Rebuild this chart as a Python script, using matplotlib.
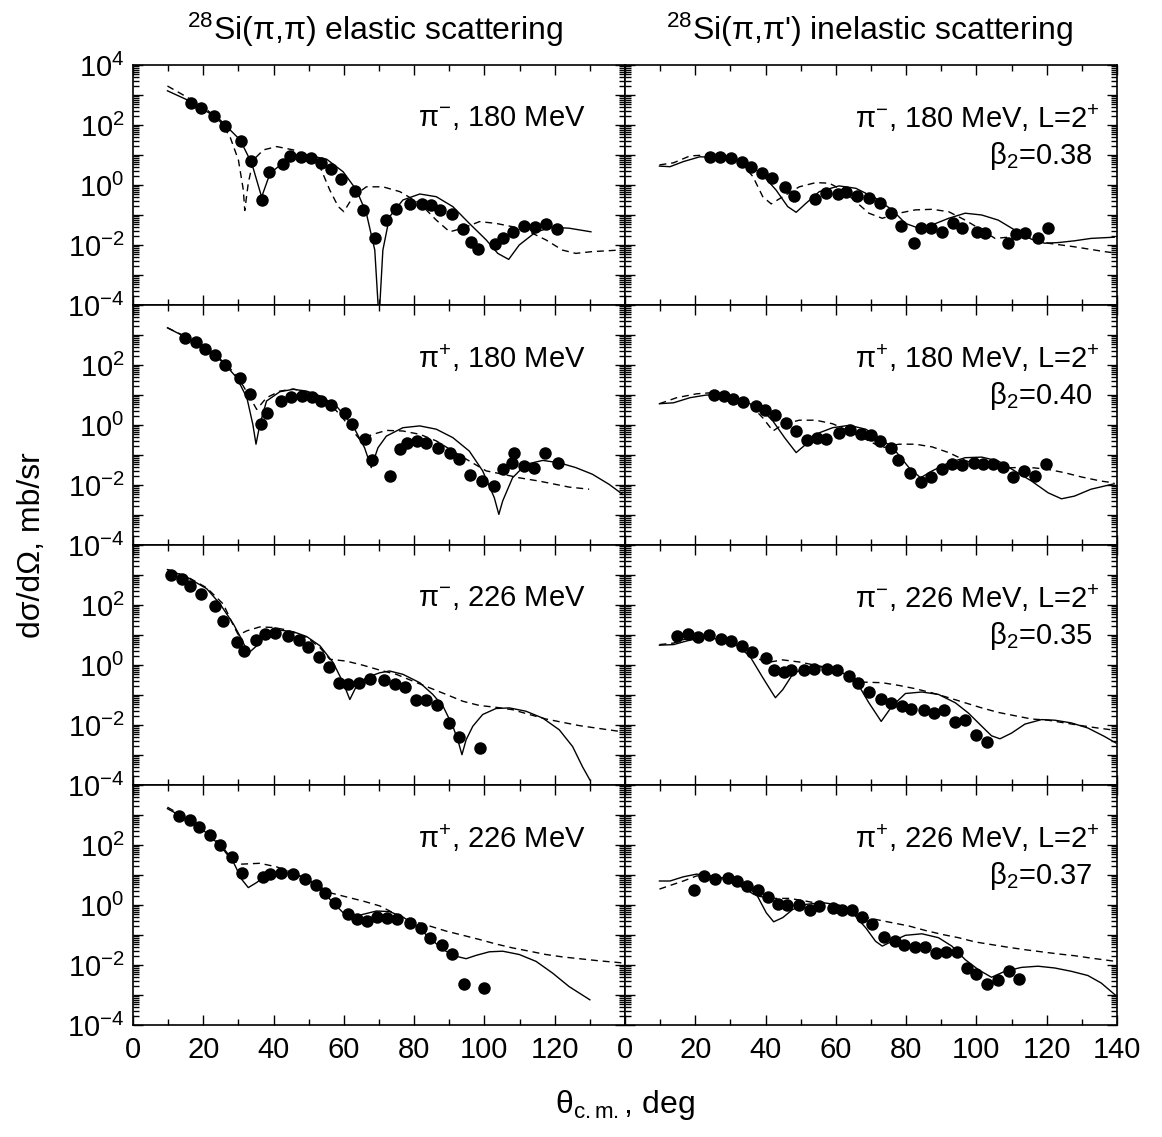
import numpy as np
import matplotlib
matplotlib.use("Agg")
import matplotlib.pyplot as plt
from matplotlib.ticker import LogLocator, FixedLocator, MultipleLocator, NullFormatter

plt.rcParams["font.family"] = ["Liberation Sans", "DejaVu Sans"]
plt.rcParams["mathtext.fontset"] = "custom"
plt.rcParams["mathtext.rm"] = "Liberation Sans"
plt.rcParams["mathtext.it"] = "Liberation Sans:italic"
plt.rcParams["mathtext.bf"] = "Liberation Sans:bold"

# all y values are log10(dsigma/dOmega [mb/sr])

# --- elastic, pi-, 180 MeV
el_m180_x = [16.5, 19.4, 23.1, 26.1, 30.7, 33.5, 36.6, 38.8, 42.6, 44.8, 47.8, 50.6, 53.4, 56.2, 59.1, 63.2, 65.5,
             68.9, 71.9, 74.7, 78.7, 82.1, 84.8, 87.4, 90.7, 93.8, 96.2, 98.1, 102.9, 105.2, 108.2, 111.4, 114.3,
             117.4, 120.7]
el_m180_y = [2.74, 2.56, 2.30, 1.97, 1.48, 0.81, -0.49, 0.44, 0.70, 0.97, 0.94, 0.89, 0.72, 0.53, 0.20, -0.19, -0.84,
             -1.78, -1.17, -0.79, -0.63, -0.62, -0.68, -0.83, -0.98, -1.47, -1.89, -2.14, -1.98, -1.76, -1.56, -1.36,
             -1.39, -1.30, -1.46]
el_m180_sx = [9.8, 16.5, 24.8, 30.5, 33.8, 36.6, 39.0, 43.7, 49.4, 55.1, 59.8, 63.6, 66.4, 68.8, 70.0, 71.1, 73.0,
              76.8, 81.6, 86.3, 91.0, 95.7, 100.5, 103.8, 106.9, 109.9, 114.7, 119.4, 124.1, 130.3]
el_m180_sy = [3.14, 2.78, 2.17, 1.5, 0.72, -0.4, 0.39, 0.83, 1.0, 0.86, 0.44, -0.17, -0.94, -2.17, -4.5, -2.17, -1.06,
              -0.5, -0.3, -0.39, -0.72, -1.28, -1.83, -2.28, -2.48, -2.0, -1.56, -1.41, -1.44, -1.56]
el_m180_dx = [9.8, 13.4, 20.1, 24.8, 27.6, 30.0, 31.4, 31.8, 32.8, 34.2, 37.1, 40.9, 45.6, 50.3, 53.2, 56.0, 58.4,
              60.0, 62.6, 66.4, 71.1, 75.9, 81.6, 86.3, 90.1, 93.9, 98.6, 103.3, 108.0, 112.8, 117.5, 122.2, 126.0,
              130.7, 138.3]
el_m180_dy = [3.3, 3.06, 2.61, 2.11, 1.61, 0.83, -0.17, -0.85, 0.06, 0.83, 1.17, 1.28, 1.17, 0.94, 0.61, -0.17, -0.72,
              -0.89, -0.39, -0.06, -0.06, -0.22, -0.61, -1.17, -1.56, -1.44, -1.22, -1.28, -1.39, -1.56, -1.83, -2.17,
              -2.28, -2.22, -2.17]

# --- inelastic, pi-, 180 MeV
in_m180_x = [24.2, 27.0, 30.3, 33.3, 35.9, 39.0, 41.8, 45.5, 48.2, 54.2, 57.2, 60.5, 63.0, 66.0, 69.4, 72.5, 75.6,
             78.5, 82.3, 84.1, 87.2, 90.2, 93.2, 96.0, 100.1, 102.5, 109.1, 111.4, 113.9, 117.4, 120.4]
in_m180_y = [0.94, 0.92, 0.91, 0.78, 0.61, 0.41, 0.22, -0.06, -0.37, -0.48, -0.28, -0.30, -0.22, -0.36, -0.44, -0.59,
             -0.92, -1.37, -1.92, -1.44, -1.44, -1.58, -1.28, -1.44, -1.57, -1.59, -1.92, -1.63, -1.61, -1.78, -1.44]
in_m180_sx = [9.8, 12.8, 16.6, 21.3, 26.0, 30.8, 35.5, 39.2, 43.0, 46.3, 48.7, 51.5, 55.3, 60.9, 65.7, 71.3, 76.0,
              79.8, 83.6, 87.4, 92.1, 96.8, 101.5, 106.2, 110.9, 115.7, 119.4, 123.2, 127.9, 132.6, 139.2]
in_m180_sy = [0.63, 0.61, 0.78, 0.94, 0.92, 0.89, 0.67, 0.33, -0.17, -0.72, -0.91, -0.61, -0.22, -0.03, -0.11, -0.44,
              -0.83, -1.28, -1.44, -1.33, -1.11, -0.94, -1.0, -1.17, -1.5, -1.81, -1.94, -1.92, -1.86, -1.78, -1.74]
in_m180_dx = [9.8, 13.8, 18.5, 23.2, 28.9, 33.6, 36.4, 39.2, 41.6, 44.9, 49.6, 54.3, 58.1, 61.9, 65.7, 69.4, 73.2,
              77.9, 82.6, 87.4, 92.1, 96.8, 101.5, 105.3, 110.9, 116.6, 120.4, 127.9, 136.4, 139.7]
in_m180_dy = [0.67, 0.74, 0.97, 1.0, 0.89, 0.67, 0.28, -0.39, -0.63, -0.39, -0.06, 0.08, 0.06, -0.17, -0.56, -0.94,
              -1.11, -0.94, -0.83, -0.81, -0.89, -1.17, -1.5, -1.78, -1.72, -1.78, -1.94, -2.06, -2.22, -2.27]

# --- elastic, pi+, 180 MeV
el_p180_x = [14.9, 17.9, 20.5, 23.4, 26.2, 30.5, 33.3, 36.3, 38.0, 42.0, 45.1, 48.0, 51.0, 53.6, 56.3, 60.2, 62.4,
             66.1, 68.1, 73.0, 75.9, 78.0, 80.9, 83.4, 86.9, 90.1, 92.9, 96.0, 99.2, 102.8, 105.2, 107.8, 108.5,
             111.4, 114.2, 117.3, 121.0]
el_p180_y = [2.91, 2.77, 2.54, 2.32, 1.99, 1.56, 1.02, 0.02, 0.41, 0.8, 0.93, 0.96, 0.93, 0.80, 0.67, 0.40, 0.04,
             -0.48, -1.17, -1.71, -0.79, -0.61, -0.53, -0.59, -0.76, -0.92, -1.12, -1.68, -1.87, -2.03, -1.48, -1.28,
             -0.92, -1.37, -1.44, -0.92, -1.28]
el_p180_sx = [9.8, 15.3, 21.0, 25.7, 29.5, 32.4, 34.1, 35.0, 36.1, 38.0, 41.8, 45.6, 49.4, 53.2, 57.9, 62.6, 65.9,
              67.8, 69.7, 72.1, 76.8, 81.6, 86.3, 91.0, 95.7, 99.5, 102.8, 104.1, 105.2, 108.0, 111.8, 116.6, 121.3,
              126.0, 130.7, 135.5, 139.3]
el_p180_sy = [3.24, 2.91, 2.52, 2.08, 1.58, 0.91, 0.02, -0.64, 0.02, 0.8, 1.11, 1.19, 1.13, 0.97, 0.63, -0.03, -0.76,
              -1.42, -0.76, -0.37, -0.09, -0.03, -0.14, -0.42, -0.87, -1.53, -2.42, -2.98, -2.53, -1.76, -1.31, -1.18,
              -1.26, -1.42, -1.64, -1.98, -2.31]
el_p180_dx = [9.8, 15.3, 21.0, 26.7, 30.5, 32.8, 35.2, 38.0, 41.8, 45.6, 50.3, 55.1, 58.8, 62.6, 64.5, 68.3, 72.1,
              76.8, 81.6, 86.3, 91.0, 95.7, 100.5, 105.2, 109.9, 115.6, 120.3, 124.1, 129.8]
el_p180_dy = [3.24, 2.93, 2.54, 2.02, 1.47, 1.02, 0.52, 0.91, 1.13, 1.2, 1.08, 0.8, 0.36, -0.2, -0.48, -0.31, -0.18,
              -0.2, -0.31, -0.53, -0.87, -1.2, -1.53, -1.64, -1.76, -1.87, -1.98, -2.07, -2.14]

# --- inelastic, pi+, 180 MeV
in_p180_x = [25.3, 28.2, 30.8, 33.6, 37.2, 39.9, 42.7, 45.7, 48.7, 51.7, 54.6, 57.2, 60.9, 64.1, 67.1, 69.9, 72.7,
             75.8, 77.7, 81.0, 84.2, 87.2, 90.2, 93.0, 95.8, 99.2, 102.0, 104.6, 107.5, 110.5, 113.6, 116.8, 119.9]
in_p180_y = [1.0, 0.96, 0.86, 0.78, 0.63, 0.49, 0.33, 0.08, -0.2, -0.5, -0.42, -0.46, -0.26, -0.18, -0.29, -0.33,
             -0.53, -0.76, -1.17, -1.61, -1.89, -1.72, -1.46, -1.31, -1.33, -1.26, -1.29, -1.31, -1.4, -1.73, -1.53,
             -1.7, -1.29]
in_p180_sx = [9.8, 13.8, 18.5, 23.2, 27.9, 33.6, 38.3, 42.1, 45.4, 48.7, 51.5, 55.3, 59.1, 63.8, 68.5, 73.2, 77.0,
              80.8, 84.1, 87.4, 92.1, 96.8, 101.5, 106.2, 110.9, 115.7, 120.4, 124.2, 127.9, 132.6, 139.2]
in_p180_sy = [0.71, 0.74, 0.91, 1.0, 0.97, 0.8, 0.58, 0.13, -0.42, -0.92, -0.64, -0.26, -0.09, -0.01, -0.14, -0.48,
              -0.87, -1.42, -1.76, -1.53, -1.26, -1.09, -1.07, -1.2, -1.53, -1.87, -2.26, -2.46, -2.37, -2.14, -1.96]
in_p180_dx = [9.8, 14.7, 20.4, 25.1, 30.8, 35.5, 39.2, 42.1, 44.9, 49.6, 54.3, 59.1, 63.8, 69.4, 73.2, 77.9, 82.6,
              87.4, 92.1, 96.8, 101.5, 106.2, 110.9, 115.7, 120.4, 125.1, 129.8, 135.5, 139.2]
in_p180_dy = [0.71, 0.91, 1.04, 1.08, 0.91, 0.69, 0.24, -0.2, 0.02, 0.16, 0.16, 0.04, -0.2, -0.53, -0.76, -0.64,
              -0.64, -0.73, -0.92, -1.18, -1.37, -1.44, -1.42, -1.42, -1.48, -1.59, -1.73, -1.87, -1.93]

# --- elastic, pi-, 226 MeV
el_m226_x = [10.9, 13.9, 16.3, 19.3, 23.2, 25.5, 29.5, 31.7, 35.0, 37.7, 40.4, 44.2, 47.2, 49.9, 52.9, 55.8, 58.6,
             61.3, 64.3, 67.5, 71.4, 74.5, 77.3, 80.4, 83.4, 86.5, 89.9, 92.9, 98.6]
el_m226_y = [3.01, 2.87, 2.65, 2.37, 1.98, 1.47, 0.77, 0.47, 0.83, 1.03, 1.06, 0.97, 0.83, 0.61, 0.27, -0.07, -0.59,
             -0.63, -0.59, -0.48, -0.5, -0.63, -0.74, -1.15, -1.17, -1.32, -1.93, -2.41, -2.77]
el_m226_sx = [9.8, 15.3, 21.0, 24.8, 28.6, 30.9, 32.8, 35.2, 38.0, 41.8, 45.6, 49.4, 53.2, 56.95, 59.8, 61.7, 63.6,
              66.4, 70.2, 73.0, 76.8, 81.6, 85.3, 88.2, 91.0, 92.4, 93.6, 94.8, 96.7, 99.5, 103.3, 107.1, 111.8,
              116.6, 121.3, 125.1, 127.9, 130.0]
el_m226_sy = [3.18, 2.93, 2.54, 2.03, 1.36, 0.86, 0.39, 0.64, 1.03, 1.16, 1.11, 0.95, 0.64, 0.08, -0.59, -1.15, -0.70,
              -0.42, -0.26, -0.2, -0.31, -0.59, -0.98, -1.37, -2.04, -2.49, -2.99, -2.49, -2.04, -1.65, -1.45, -1.43,
              -1.54, -1.77, -2.16, -2.72, -3.39, -3.83]
el_m226_dx = [9.8, 15.3, 21.0, 25.7, 28.6, 30.0, 32.4, 36.1, 39.9, 43.7, 49.4, 53.2, 56.0, 60.7, 65.5, 70.2, 74.9,
              79.7, 84.4, 89.1, 93.9, 98.6, 103.3, 108.0, 112.8, 117.5, 122.2, 127.0, 131.7, 138.3]
el_m226_dy = [3.18, 2.95, 2.57, 2.03, 1.31, 1.0, 1.14, 1.27, 1.25, 1.17, 0.92, 0.58, 0.19, 0.13, -0.01, -0.17, -0.31,
              -0.54, -0.76, -0.98, -1.21, -1.35, -1.41, -1.49, -1.65, -1.8, -1.91, -2.02, -2.1, -2.21]

# --- inelastic, pi-, 226 MeV
in_m226_x = [14.9, 17.8, 20.7, 23.9, 27.2, 30.3, 33.4, 36.2, 40.0, 42.5, 45.2, 47.3, 50.8, 53.7, 57.6, 60.3, 63.8,
             66.4, 69.4, 72.9, 75.8, 78.7, 81.5, 85.0, 87.8, 90.8, 93.8, 96.8, 99.8, 102.9]
in_m226_y = [0.97, 1.03, 0.95, 0.99, 0.88, 0.80, 0.64, 0.44, 0.22, -0.17, -0.22, -0.17, -0.15, -0.12, -0.12, -0.17,
             -0.37, -0.59, -0.91, -1.13, -1.26, -1.35, -1.46, -1.49, -1.6, -1.51, -1.91, -1.84, -2.32, -2.55]
in_m226_sx = [9.8, 13.8, 17.5, 22.3, 27.0, 31.7, 35.5, 39.2, 41.6, 42.8, 44.9, 47.7, 50.6, 55.3, 59.1, 62.8, 66.6,
              69.4, 72.9, 76.0, 79.8, 84.5, 89.2, 94.0, 97.7, 101.5, 104.3, 106.7, 110.0, 113.8, 118.5, 122.3, 127.0,
              131.7, 136.4, 139.7]
in_m226_sy = [0.66, 0.68, 0.80, 0.92, 0.86, 0.66, 0.30, -0.42, -0.87, -1.09, -0.82, -0.31, -0.12, -0.06, -0.12, -0.31,
              -0.70, -1.26, -1.88, -1.37, -0.95, -0.9, -0.98, -1.26, -1.6, -2.04, -2.36, -2.46, -2.27, -1.97, -1.82,
              -1.84, -1.93, -2.1, -2.38, -2.6]
in_m226_dx = [9.8, 13.8, 18.5, 23.2, 27.9, 32.6, 36.4, 40.2, 44.9, 49.6, 54.3, 59.1, 63.8, 67.5, 73.2, 77.9, 82.6,
              87.4, 92.1, 96.8, 101.5, 106.2, 110.9, 115.7, 120.4, 125.1, 129.8, 134.5, 139.7]
in_m226_dy = [0.68, 0.73, 0.92, 0.97, 0.84, 0.58, 0.30, 0.08, 0.17, 0.1, -0.01, -0.12, -0.37, -0.57, -0.59, -0.68,
              -0.79, -0.93, -1.09, -1.26, -1.43, -1.58, -1.69, -1.8, -1.84, -1.93, -2.02, -2.1, -2.18]

# --- elastic, pi+, 226 MeV
el_p226_x = [13.2, 16.1, 18.8, 21.8, 24.8, 28.3, 31.1, 37.1, 39.0, 42.1, 45.4, 49.0, 52.2, 54.6, 57.6, 61.2, 63.8,
             66.6, 69.4, 72.3, 75.2, 78.9, 82.0, 84.4, 87.8, 90.7, 94.3, 100.0]
el_p226_y = [2.98, 2.84, 2.59, 2.35, 2.01, 1.59, 1.07, 0.94, 1.05, 1.07, 1.05, 0.86, 0.66, 0.41, 0.08, -0.31, -0.45,
             -0.54, -0.40, -0.42, -0.48, -0.59, -0.78, -1.09, -1.32, -1.62, -2.63, -2.77]
el_p226_sx = [9.8, 13.4, 19.1, 24.8, 28.6, 30.9, 32.8, 35.2, 38.0, 41.8, 45.6, 49.4, 53.2, 56.95, 59.8, 62.6, 65.5,
              69.3, 73.0, 76.8, 80.6, 84.4, 88.2, 92.0, 94.8, 97.6, 101.4, 105.2, 109.9, 114.7, 119.4, 124.1, 130.0]
el_p226_sy = [3.21, 2.98, 2.59, 1.98, 1.42, 0.86, 0.58, 0.75, 1.01, 1.08, 1.05, 0.86, 0.53, 0.08, -0.26, -0.40, -0.31,
              -0.2, -0.22, -0.4, -0.70, -1.09, -1.49, -1.71, -1.79, -1.68, -1.56, -1.54, -1.65, -1.88, -2.27, -2.72,
              -3.16]
el_p226_dx = [9.8, 13.4, 19.1, 24.8, 28.6, 30.5, 36.1, 40.9, 46.5, 51.3, 56.0, 60.7, 65.5, 70.2, 74.9, 79.7, 84.4,
              89.1, 93.9, 98.6, 103.3, 108.0, 112.8, 117.5, 122.2, 127.0, 132.6, 139.3]
el_p226_dy = [3.26, 3.02, 2.61, 2.03, 1.47, 1.36, 1.39, 1.27, 1.03, 0.75, 0.41, 0.27, 0.13, -0.03, -0.31, -0.54,
              -0.70, -0.87, -1.01, -1.15, -1.30, -1.43, -1.54, -1.65, -1.73, -1.79, -1.86, -1.93]

# --- inelastic, pi+, 226 MeV
in_p226_x = [19.7, 22.5, 25.7, 29.2, 31.9, 34.8, 37.8, 40.7, 43.4, 46.2, 49.4, 52.5, 55.3, 59.1, 61.7, 64.7, 67.4,
             70.2, 73.7, 76.8, 79.4, 82.5, 85.5, 88.5, 91.4, 94.4, 97.2, 99.9, 102.9, 106.2, 109.2, 112.2]
in_p226_y = [0.49, 0.97, 0.86, 0.89, 0.80, 0.64, 0.51, 0.27, 0.04, -0.01, -0.01, -0.16, -0.03, -0.09, -0.15, -0.18,
             -0.40, -0.63, -1.06, -1.21, -1.34, -1.39, -1.39, -1.60, -1.56, -1.56, -2.10, -2.30, -2.64, -2.50, -2.21,
             -2.47]
in_p226_sx = [9.8, 12.8, 16.6, 20.4, 24.2, 28.9, 33.6, 37.4, 40.2, 42.3, 44.9, 47.7, 51.5, 56.2, 60.9, 64.7, 68.5,
              71.3, 73.2, 76.0, 79.8, 84.5, 89.2, 93.0, 96.8, 100.6, 104.3, 108.1, 112.8, 117.5, 122.3, 127.0, 131.7,
              135.5, 139.7]
in_p226_sy = [0.80, 0.80, 0.94, 1.03, 0.97, 0.89, 0.69, 0.36, -0.26, -0.56, -0.42, -0.15, 0.02, 0.08, 0.0, -0.26,
              -0.76, -1.21, -1.37, -1.21, -1.01, -0.96, -1.09, -1.37, -1.82, -2.16, -2.41, -2.21, -2.08, -2.04, -2.10,
              -2.21, -2.35, -2.60, -3.02]
in_p226_dx = [9.8, 13.8, 16.6, 20.4, 25.1, 29.8, 33.6, 37.4, 42.1, 46.8, 51.5, 56.2, 61.9, 66.6, 71.3, 76.0, 80.8,
              85.5, 90.2, 94.9, 99.6, 104.3, 109.1, 113.8, 118.5, 123.2, 127.9, 132.6, 139.7]
in_p226_dy = [0.53, 0.69, 0.80, 0.97, 0.97, 0.78, 0.58, 0.30, 0.22, 0.22, 0.13, 0.02, -0.20, -0.37, -0.48, -0.59,
              -0.70, -0.85, -0.98, -1.09, -1.23, -1.32, -1.41, -1.49, -1.56, -1.63, -1.69, -1.77, -1.88]

left_labels = ["\u03c0$^{-}$, 180 MeV", "\u03c0$^{+}$, 180 MeV", "\u03c0$^{-}$, 226 MeV", "\u03c0$^{+}$, 226 MeV"]
right_labels = ["\u03c0$^{-}$, 180 MeV, L=2$^{+}$", "\u03c0$^{+}$, 180 MeV, L=2$^{+}$",
                "\u03c0$^{-}$, 226 MeV, L=2$^{+}$", "\u03c0$^{+}$, 226 MeV, L=2$^{+}$"]
beta_labels = ["\u03b2$_{2}$=0.38", "\u03b2$_{2}$=0.40", "\u03b2$_{2}$=0.35", "\u03b2$_{2}$=0.37"]

panels = [
    [(el_m180_x, el_m180_y, el_m180_sx, el_m180_sy, el_m180_dx, el_m180_dy),
     (in_m180_x, in_m180_y, in_m180_sx, in_m180_sy, in_m180_dx, in_m180_dy)],
    [(el_p180_x, el_p180_y, el_p180_sx, el_p180_sy, el_p180_dx, el_p180_dy),
     (in_p180_x, in_p180_y, in_p180_sx, in_p180_sy, in_p180_dx, in_p180_dy)],
    [(el_m226_x, el_m226_y, el_m226_sx, el_m226_sy, el_m226_dx, el_m226_dy),
     (in_m226_x, in_m226_y, in_m226_sx, in_m226_sy, in_m226_dx, in_m226_dy)],
    [(el_p226_x, el_p226_y, el_p226_sx, el_p226_sy, el_p226_dx, el_p226_dy),
     (in_p226_x, in_p226_y, in_p226_sx, in_p226_sy, in_p226_dx, in_p226_dy)],
]

W, H = 1162, 1137
fig = plt.figure(figsize=(W / 100, H / 100), dpi=100)

x0, pw = 133, 492
y0, ph = 65, 240
FS = 21

for row in range(4):
    for col in range(2):
        ax = fig.add_axes([(x0 + col * pw) / W, 1 - (y0 + (row + 1) * ph) / H, pw / W, ph / H])
        px, py, sx, sy, dx, dy = panels[row][col]
        ax.plot(sx, 10.0 ** np.asarray(sy), color="black", lw=1.0)
        ax.plot(dx, 10.0 ** np.asarray(dy), color="black", lw=1.0, ls=(0, (5, 3.5)))
        ax.plot(px, 10.0 ** np.asarray(py), "o", color="black", ms=9, mew=0)

        ax.set_yscale("log")
        ax.set_ylim(1e-4, 1e4)
        ax.set_xlim(0, 140)
        ax.yaxis.set_major_locator(LogLocator(base=10, numticks=20))
        ax.yaxis.set_minor_locator(LogLocator(base=10, subs=np.arange(2, 10), numticks=20))
        ax.yaxis.set_minor_formatter(NullFormatter())
        ax.xaxis.set_major_locator(MultipleLocator(20))
        ax.xaxis.set_minor_locator(MultipleLocator(10))
        ax.tick_params(which="both", direction="in", top=True, right=True, labelsize=FS, width=1.0)
        ax.tick_params(which="major", length=7)
        ax.tick_params(which="minor", length=4)
        for sp in ax.spines.values():
            sp.set_linewidth(1.2)

        if col == 0:
            lab = ["10$^{%d}$" % e if e % 2 == 0 else "" for e in range(-4, 5)]
            if row > 0:
                lab[-1] = ""
            ax.yaxis.set_major_locator(FixedLocator([10.0 ** e for e in range(-4, 5)]))
            ax.set_yticklabels(lab)
            ax.tick_params(axis="y", pad=6)
        else:
            ax.tick_params(axis="y", labelleft=False)

        if row == 3:
            ax.set_xticks([0, 20, 40, 60, 80, 100, 120, 140])
            if col == 0:
                ax.set_xticklabels(["0", "20", "40", "60", "80", "100", "120", ""])
            ax.tick_params(axis="x", pad=8)
        else:
            ax.tick_params(axis="x", labelbottom=False)

        if col == 0:
            ax.text(0.92, 0.78, left_labels[row], transform=ax.transAxes, ha="right", va="center", fontsize=FS)
        else:
            ax.text(0.965, 0.78, right_labels[row], transform=ax.transAxes, ha="right", va="center", fontsize=FS)
            ax.text(0.95, 0.62, beta_labels[row], transform=ax.transAxes, ha="right", va="center", fontsize=FS)

fig.text(375 / W, 1 - 30 / H, "$^{28}$Si(\u03c0,\u03c0) elastic scattering", ha="center", va="center", fontsize=23)
fig.text(870 / W, 1 - 30 / H, "$^{28}$Si(\u03c0,\u03c0') inelastic scattering", ha="center", va="center", fontsize=23)
fig.text(32 / W, 1 - 545 / H, "d\u03c3/d\u03a9, mb/sr", rotation=90, ha="center", va="center", fontsize=23)
fig.text(625 / W, 1 - 1105 / H, "\u03b8$_{\\mathrm{c.m.}}$, deg", ha="center", va="center", fontsize=23)

fig.savefig("out.png", dpi=100)
